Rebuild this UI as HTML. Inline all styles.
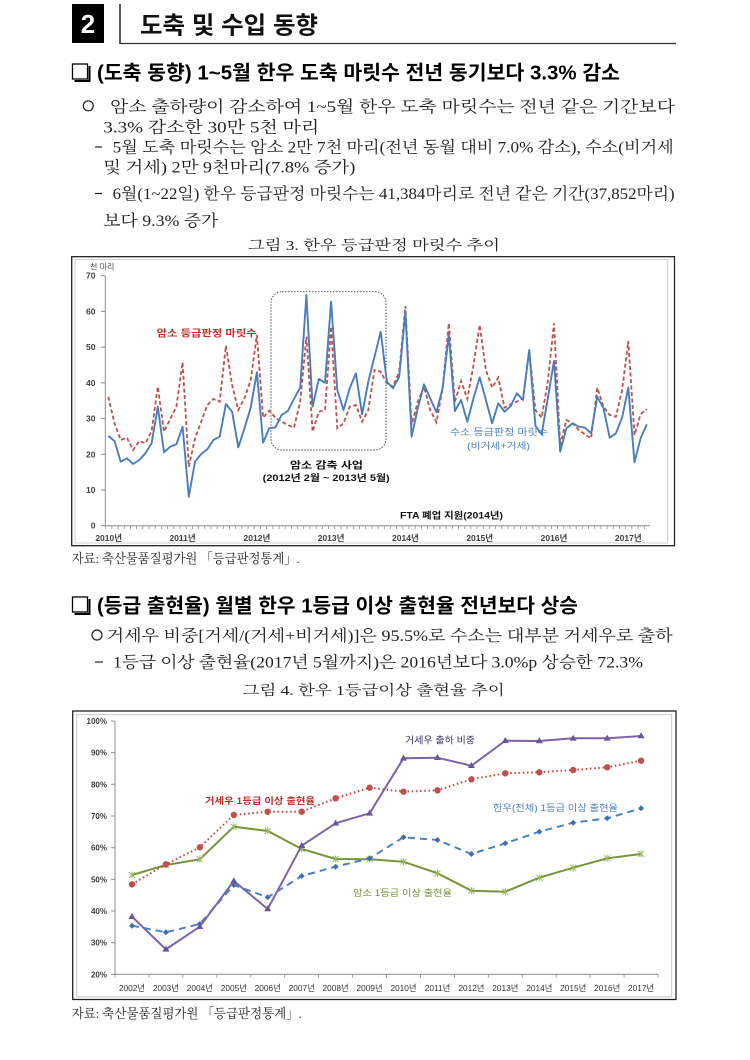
<!DOCTYPE html>
<html><head><meta charset="utf-8"><style>
html,body{margin:0;padding:0;background:#fff;}
svg{display:block;}
.h{font-family:"Liberation Sans","Noto Sans CJK KR",sans-serif;font-weight:bold;}
.b{font-family:"Liberation Serif","Noto Serif CJK SC",serif;fill:#222;}
.c{font-family:"Liberation Sans","Noto Sans CJK KR",sans-serif;}
</style></head><body>
<svg width="750" height="1060" viewBox="0 0 750 1060" xmlns="http://www.w3.org/2000/svg">
<rect width="750" height="1060" fill="#fff"/>
<!-- header -->
<rect x="72" y="4" width="32" height="39" fill="#000"/>
<text x="88" y="33" text-anchor="middle" class="h" font-size="26" fill="#fff">2</text>
<line x1="120" y1="4" x2="120" y2="44" stroke="#222" stroke-width="1.5"/>
<line x1="120" y1="43.5" x2="676" y2="43.5" stroke="#333" stroke-width="1.2"/>
<text x="140" y="33.5" class="h" font-size="24" textLength="178" lengthAdjust="spacingAndGlyphs" fill="#111">도축 및 수입 동향</text>

<!-- section 1 -->
<rect x="72.5" y="64" width="15" height="15" fill="none" stroke="#000" stroke-width="1.3"/>
<polyline points="89.5,66 89.5,81 74.5,81" fill="none" stroke="#000" stroke-width="2"/>
<text x="97" y="79.5" class="h" font-size="20" textLength="523" lengthAdjust="spacingAndGlyphs" fill="#000">(도축 동향) 1~5월 한우 도축 마릿수 전년 동기보다 3.3% 감소</text>
<circle cx="88.3" cy="105.8" r="5" fill="none" stroke="#222" stroke-width="1.2"/>
<text x="110" y="112" class="b" font-size="16" textLength="565" lengthAdjust="spacingAndGlyphs">암소 출하량이 감소하여 1~5월 한우 도축 마릿수는 전년 같은 기간보다</text>
<text x="103.3" y="132.5" class="b" font-size="16" textLength="216" lengthAdjust="spacingAndGlyphs">3.3% 감소한 30만 5천 마리</text>
<line x1="95" y1="147" x2="102" y2="147" stroke="#222" stroke-width="1.2"/>
<text x="112.7" y="152.5" class="b" font-size="16" textLength="561" lengthAdjust="spacingAndGlyphs">5월 도축 마릿수는 암소 2만 7천 마리(전년 동월 대비 7.0% 감소), 수소(비거세</text>
<text x="103.3" y="172.5" class="b" font-size="16" textLength="252" lengthAdjust="spacingAndGlyphs">및 거세) 2만 9천마리(7.8% 증가)</text>
<line x1="95" y1="193.5" x2="102" y2="193.5" stroke="#222" stroke-width="1.2"/>
<text x="112.7" y="199" class="b" font-size="16" textLength="562" lengthAdjust="spacingAndGlyphs">6월(1~22일) 한우 등급판정 마릿수는 41,384마리로 전년 같은 기간(37,852마리)</text>
<text x="103.3" y="226" class="b" font-size="16" textLength="115" lengthAdjust="spacingAndGlyphs">보다 9.3% 증가</text>
<text x="248" y="250" class="b" font-size="14" textLength="252" lengthAdjust="spacingAndGlyphs">그림 3. 한우 등급판정 마릿수 추이</text>

<!-- chart 1 frame -->
<rect x="71.7" y="256.7" width="602.8" height="289" fill="#fff" stroke="#222" stroke-width="1.3"/>
<rect x="75" y="259.5" width="592.7" height="283.5" fill="none" stroke="#d0d0d0" stroke-width="1"/>
<text x="90" y="269.5" class="c" font-size="8" fill="#444">천 마리</text>
<line x1="105.3" y1="275.7" x2="105.3" y2="525.7" stroke="#8c8c8c" stroke-width="1"/>
<line x1="105.3" y1="525.7" x2="650" y2="525.7" stroke="#8c8c8c" stroke-width="1"/>
<line x1="105.3" y1="527.4" x2="650" y2="527.4" stroke="#8c8c8c" stroke-width="3.4" stroke-dasharray="0.8 5.39"/>
<g stroke="#8c8c8c" stroke-width="1">
<line x1="101" y1="525.7" x2="105.3" y2="525.7"/><line x1="101" y1="490.0" x2="105.3" y2="490.0"/>
<line x1="101" y1="454.3" x2="105.3" y2="454.3"/><line x1="101" y1="418.6" x2="105.3" y2="418.6"/>
<line x1="101" y1="382.9" x2="105.3" y2="382.9"/><line x1="101" y1="347.2" x2="105.3" y2="347.2"/>
<line x1="101" y1="311.4" x2="105.3" y2="311.4"/><line x1="101" y1="275.7" x2="105.3" y2="275.7"/>
</g>
<g class="c" font-size="8.5" font-weight="bold" fill="#404040" text-anchor="end">
<text x="95.5" y="528.7">0</text><text x="95.5" y="493">10</text><text x="95.5" y="457.3">20</text>
<text x="95.5" y="421.6">30</text><text x="95.5" y="385.9">40</text><text x="95.5" y="350.2">50</text>
<text x="95.5" y="314.4">60</text><text x="95.5" y="278.7">70</text>
</g>
<g class="c" font-size="8.5" font-weight="bold" fill="#404040" text-anchor="middle">
<text x="108.7" y="541">2010년</text><text x="182.6" y="541">2011년</text><text x="256.9" y="541">2012년</text>
<text x="331.1" y="541">2013년</text><text x="405.4" y="541">2014년</text><text x="479.7" y="541">2015년</text>
<text x="554" y="541">2016년</text><text x="628.3" y="541">2017년</text>
</g>
<rect x="271" y="291.7" width="115" height="158.3" rx="11" ry="11" fill="none" stroke="#444" stroke-width="0.9" stroke-dasharray="1.5 1.5"/>
<!-- red dashed -->
<polyline fill="none" stroke="#c0504d" stroke-width="1.8" stroke-dasharray="4 2.5" points="108.3,396.7 114.5,423.3 120.7,440 126.9,437.7 133.1,450 139.3,441 145.4,443.3 151.6,431 157.8,386.7 164,431.7 170.2,419 176.4,406.7 182.6,362.3 188.8,466.7 195,438.3 201.2,421.7 207.3,405 213.5,399 219.7,401.7 225.9,345.7 232.1,385 238.3,410 244.5,398.3 250.7,380 256.9,335 263.1,417.7 269.2,410.7 275.4,417.7 281.6,421.7 287.8,425 294,427.7 300.2,401.7 306.4,336.7 312.6,431.7 318.8,411.7 325,410 331.1,326.7 337.3,428.3 343.5,423.3 349.7,406.7 355.9,405 362.1,421.7 368.3,410 374.5,370 380.7,371.7 386.9,383.3 393,386.7 399.2,371.7 405.4,306 411.6,425 417.8,401.7 424,386.7 430.2,410 436.4,422.3 442.6,388.3 448.8,323.3 454.9,401.7 461.1,381 467.3,399 473.5,365 479.7,325 485.9,370 492.1,387.7 498.3,377.7 504.5,407.7 510.7,404.3 516.8,401.7 523,398.3 529.2,350 535.4,410 541.6,417.7 547.8,381.7 554,323.3 560.2,445 566.4,420 572.6,423.3 578.7,430 584.9,434.3 591.1,438.3 597.3,387.7 603.5,406.7 609.7,415 615.9,416.7 622.1,390 628.3,341 634.5,435 640.6,414.3 646.8,409"/>
<!-- blue solid -->
<polyline fill="none" stroke="#4a7ebb" stroke-width="1.9" stroke-linejoin="round" points="108.3,436 114.5,441 120.7,461.7 126.9,458.3 133.1,464 139.3,460 145.4,453.3 151.6,443.3 157.8,406.7 164,452.3 170.2,446.7 176.4,444.3 182.6,426.7 188.8,496.7 195,461.7 201.2,454 207.3,449.3 213.5,440 219.7,436.7 225.9,404 232.1,411.7 238.3,447.3 244.5,428.3 250.7,407.7 256.9,372.3 263.1,442.7 269.2,428.3 275.4,427.3 281.6,415 287.8,411 294,399 300.2,387.3 306.4,295 312.6,406.7 318.8,379 325,382.7 331.1,301.7 337.3,390 343.5,410 349.7,388.3 355.9,373.3 362.1,414.3 368.3,381.7 374.5,356.7 380.7,331.7 386.9,381.7 393,388.3 399.2,376.7 405.4,312 411.6,436.7 417.8,408.3 424,384.3 430.2,398.3 436.4,412.3 442.6,388.3 448.8,335 454.9,411 461.1,400 467.3,421.7 473.5,398.3 479.7,377.3 485.9,400 492.1,423.3 498.3,403.3 504.5,411.7 510.7,406 516.8,393.3 523,400 529.2,350 535.4,425.7 541.6,434.3 547.8,398.3 554,361 560.2,451.7 566.4,428.3 572.6,423.3 578.7,426.7 584.9,427.7 591.1,433.3 597.3,396.7 603.5,408.3 609.7,437.7 615.9,433.3 622.1,417.7 628.3,387.7 634.5,462.3 640.6,438.3 646.8,424.3"/>
<text x="156.7" y="336.5" class="c" font-size="9.5" font-weight="bold" fill="#c0302a" textLength="100" lengthAdjust="spacingAndGlyphs">암소 등급판정 마릿수</text>
<text x="290" y="468.5" class="c" font-size="9.5" font-weight="bold" fill="#111" textLength="73" lengthAdjust="spacingAndGlyphs">암소 감축 사업</text>
<text x="262.7" y="481" class="c" font-size="9" font-weight="bold" fill="#111" textLength="127" lengthAdjust="spacingAndGlyphs">(2012년 2월 ~ 2013년 5월)</text>
<text x="400" y="518.3" class="c" font-size="9" font-weight="bold" fill="#111" textLength="103" lengthAdjust="spacingAndGlyphs">FTA 폐업 지원(2014년)</text>
<text x="450" y="435.5" class="c" font-size="9.5" fill="#4f81bd" textLength="98" lengthAdjust="spacingAndGlyphs">수소 등급판정 마릿수</text>
<text x="467" y="449" class="c" font-size="9" fill="#4f81bd" textLength="63" lengthAdjust="spacingAndGlyphs">(비거세+거세)</text>

<text x="71.7" y="563" class="b" font-size="13" textLength="228" lengthAdjust="spacingAndGlyphs">자료: 축산물품질평가원 「등급판정통계」.</text>

<!-- section 2 -->
<rect x="72.5" y="597" width="15" height="15" fill="none" stroke="#000" stroke-width="1.3"/>
<polyline points="89.5,599 89.5,614 74.5,614" fill="none" stroke="#000" stroke-width="2"/>
<text x="97" y="612.5" class="h" font-size="20" textLength="481" lengthAdjust="spacingAndGlyphs" fill="#000">(등급 출현율) 월별 한우 1등급 이상 출현율 전년보다 상승</text>
<circle cx="97" cy="635" r="5" fill="none" stroke="#222" stroke-width="1.2"/>
<text x="106.7" y="641" class="b" font-size="16" textLength="566" lengthAdjust="spacingAndGlyphs">거세우 비중[거세/(거세+비거세)]은 95.5%로 수소는 대부분 거세우로 출하</text>
<line x1="95" y1="662" x2="103" y2="662" stroke="#222" stroke-width="1.2"/>
<text x="113" y="667.5" class="b" font-size="16" textLength="530" lengthAdjust="spacingAndGlyphs">1등급 이상 출현율(2017년 5월까지)은 2016년보다 3.0%p 상승한 72.3%</text>
<text x="242.7" y="695" class="b" font-size="14" textLength="262" lengthAdjust="spacingAndGlyphs">그림 4. 한우 1등급이상 출현율 추이</text>

<!-- chart 2 -->
<rect x="72.7" y="711" width="603.3" height="288.5" fill="#fff" stroke="#222" stroke-width="1.3"/>
<rect x="76.7" y="714.7" width="595" height="282" fill="none" stroke="#c8c8c8" stroke-width="1"/>
<line x1="115" y1="721" x2="115" y2="974.3" stroke="#8c8c8c" stroke-width="1"/>
<line x1="115" y1="974.3" x2="658" y2="974.3" stroke="#8c8c8c" stroke-width="1"/>
<line x1="114.6" y1="976" x2="659" y2="976" stroke="#8c8c8c" stroke-width="3.4" stroke-dasharray="0.8 33.14"/>
<g stroke="#8c8c8c" stroke-width="1">
<line x1="111" y1="721" x2="115" y2="721"/><line x1="111" y1="752.7" x2="115" y2="752.7"/>
<line x1="111" y1="784.3" x2="115" y2="784.3"/><line x1="111" y1="816" x2="115" y2="816"/>
<line x1="111" y1="847.7" x2="115" y2="847.7"/><line x1="111" y1="879.3" x2="115" y2="879.3"/>
<line x1="111" y1="911" x2="115" y2="911"/><line x1="111" y1="942.7" x2="115" y2="942.7"/>
<line x1="111" y1="974.3" x2="115" y2="974.3"/>
</g>
<g class="c" font-size="8" font-weight="bold" fill="#404040" text-anchor="end">
<text x="107" y="724">100%</text><text x="107" y="755.7">90%</text><text x="107" y="787.3">80%</text>
<text x="107" y="819">70%</text><text x="107" y="850.7">60%</text><text x="107" y="882.3">50%</text>
<text x="107" y="914">40%</text><text x="107" y="945.7">30%</text><text x="107" y="977.3">20%</text>
</g>
<g class="c" font-size="8.3" fill="#333" text-anchor="middle">
<text x="132" y="991">2002년</text><text x="165.9" y="991">2003년</text><text x="199.8" y="991">2004년</text>
<text x="233.8" y="991">2005년</text><text x="267.7" y="991">2006년</text><text x="301.7" y="991">2007년</text>
<text x="335.6" y="991">2008년</text><text x="369.6" y="991">2009년</text><text x="403.5" y="991">2010년</text>
<text x="437.5" y="991">2011년</text><text x="471.4" y="991">2012년</text><text x="505.3" y="991">2013년</text>
<text x="539.3" y="991">2014년</text><text x="573.2" y="991">2015년</text><text x="607.2" y="991">2016년</text>
<text x="641.1" y="991">2017년</text>
</g>
<!-- green -->
<polyline fill="none" stroke="#77933c" stroke-width="2" points="132,875 165.9,865 199.8,859.3 233.8,826.7 267.7,831 301.7,849 335.6,859 369.6,859.3 403.5,861.7 437.5,873.3 471.4,890.7 505.3,891.7 539.3,877.7 573.2,867.7 607.2,858.3 641.1,854"/>
<g stroke="#9bbb59" stroke-width="1">
<path d="M129,872 l6,6 M135,872 l-6,6 M132,871.5 v7 M162.9,862 l6,6 M168.9,862 l-6,6 M165.9,861.5 v7 M196.8,856.3 l6,6 M202.8,856.3 l-6,6 M199.8,855.8 v7 M230.8,823.7 l6,6 M236.8,823.7 l-6,6 M233.8,823.2 v7 M264.7,828 l6,6 M270.7,828 l-6,6 M267.7,827.5 v7 M298.7,846 l6,6 M304.7,846 l-6,6 M301.7,845.5 v7 M332.6,856 l6,6 M338.6,856 l-6,6 M335.6,855.5 v7 M366.6,856.3 l6,6 M372.6,856.3 l-6,6 M369.6,855.8 v7 M400.5,858.7 l6,6 M406.5,858.7 l-6,6 M403.5,858.2 v7 M434.5,870.3 l6,6 M440.5,870.3 l-6,6 M437.5,869.8 v7 M468.4,887.7 l6,6 M474.4,887.7 l-6,6 M471.4,887.2 v7 M502.3,888.7 l6,6 M508.3,888.7 l-6,6 M505.3,888.2 v7 M536.3,874.7 l6,6 M542.3,874.7 l-6,6 M539.3,874.2 v7 M570.2,864.7 l6,6 M576.2,864.7 l-6,6 M573.2,864.2 v7 M604.2,855.3 l6,6 M610.2,855.3 l-6,6 M607.2,854.8 v7 M638.1,851 l6,6 M644.1,851 l-6,6 M641.1,850.5 v7"/>
</g>
<!-- blue dashed -->
<polyline fill="none" stroke="#4f81bd" stroke-width="2" stroke-dasharray="7 5" points="132,925.7 165.9,932.3 199.8,924 233.8,885 267.7,897.3 301.7,876 335.6,866.7 369.6,858.3 403.5,837.3 437.5,840 471.4,854 505.3,843.3 539.3,831.7 573.2,822.7 607.2,818.3 641.1,808.3"/>
<g fill="#3f6fb0">
<path d="M132,922.7l3,3l-3,3l-3,-3z M165.9,929.3l3,3l-3,3l-3,-3z M199.8,921l3,3l-3,3l-3,-3z M233.8,882l3,3l-3,3l-3,-3z M267.7,894.3l3,3l-3,3l-3,-3z M301.7,873l3,3l-3,3l-3,-3z M335.6,863.7l3,3l-3,3l-3,-3z M369.6,855.3l3,3l-3,3l-3,-3z M403.5,834.3l3,3l-3,3l-3,-3z M437.5,837l3,3l-3,3l-3,-3z M471.4,851l3,3l-3,3l-3,-3z M505.3,840.3l3,3l-3,3l-3,-3z M539.3,828.7l3,3l-3,3l-3,-3z M573.2,819.7l3,3l-3,3l-3,-3z M607.2,815.3l3,3l-3,3l-3,-3z M641.1,805.3l3,3l-3,3l-3,-3z"/>
</g>
<!-- purple -->
<polyline fill="none" stroke="#7b64a8" stroke-width="2" points="132,916.7 165.9,949.3 199.8,926.7 233.8,881 267.7,909 301.7,845.7 335.6,823.3 369.6,813.3 403.5,758.3 437.5,757.7 471.4,765.7 505.3,740.7 539.3,741 573.2,738.3 607.2,738.3 641.1,736"/>
<g fill="#6a559a">
<path d="M132,913l3.5,6h-7z M165.9,945.6l3.5,6h-7z M199.8,923l3.5,6h-7z M233.8,877.3l3.5,6h-7z M267.7,905.3l3.5,6h-7z M301.7,842l3.5,6h-7z M335.6,819.6l3.5,6h-7z M369.6,809.6l3.5,6h-7z M403.5,754.6l3.5,6h-7z M437.5,754l3.5,6h-7z M471.4,762l3.5,6h-7z M505.3,737l3.5,6h-7z M539.3,737.3l3.5,6h-7z M573.2,734.6l3.5,6h-7z M607.2,734.6l3.5,6h-7z M641.1,732.3l3.5,6h-7z"/>
</g>
<!-- red dotted -->
<polyline fill="none" stroke="#c0504d" stroke-width="2" stroke-dasharray="1.6 2.6" points="132,884.3 165.9,864.3 199.8,847.3 233.8,815 267.7,811.7 301.7,811.7 335.6,798.3 369.6,787.7 403.5,791.7 437.5,790.3 471.4,779.3 505.3,773.3 539.3,772.3 573.2,770 607.2,767.3 641.1,760.7"/>
<g fill="#c0504d">
<circle cx="132" cy="884.3" r="3.2"/><circle cx="165.9" cy="864.3" r="3.2"/><circle cx="199.8" cy="847.3" r="3.2"/>
<circle cx="233.8" cy="815" r="3.2"/><circle cx="267.7" cy="811.7" r="3.2"/><circle cx="301.7" cy="811.7" r="3.2"/>
<circle cx="335.6" cy="798.3" r="3.2"/><circle cx="369.6" cy="787.7" r="3.2"/><circle cx="403.5" cy="791.7" r="3.2"/>
<circle cx="437.5" cy="790.3" r="3.2"/><circle cx="471.4" cy="779.3" r="3.2"/><circle cx="505.3" cy="773.3" r="3.2"/>
<circle cx="539.3" cy="772.3" r="3.2"/><circle cx="573.2" cy="770" r="3.2"/><circle cx="607.2" cy="767.3" r="3.2"/>
<circle cx="641.1" cy="760.7" r="3.2"/>
</g>
<text x="405" y="743.5" class="c" font-size="9.5" fill="#3c3466" textLength="70" lengthAdjust="spacingAndGlyphs">거세우 출하 비중</text>
<text x="205" y="804" class="c" font-size="9" font-weight="bold" fill="#c0302a" textLength="110" lengthAdjust="spacingAndGlyphs">거세우 1등급 이상 출현율</text>
<text x="493" y="811" class="c" font-size="9" fill="#4f81bd" textLength="125" lengthAdjust="spacingAndGlyphs">한우(전체) 1등급 이상 출현율</text>
<text x="353" y="896" class="c" font-size="9" fill="#77933c" textLength="99" lengthAdjust="spacingAndGlyphs">암소 1등급 이상 출현율</text>

<text x="71.7" y="1018" class="b" font-size="13" textLength="230" lengthAdjust="spacingAndGlyphs">자료: 축산물품질평가원 「등급판정통계」.</text>
</svg>
</body></html>
